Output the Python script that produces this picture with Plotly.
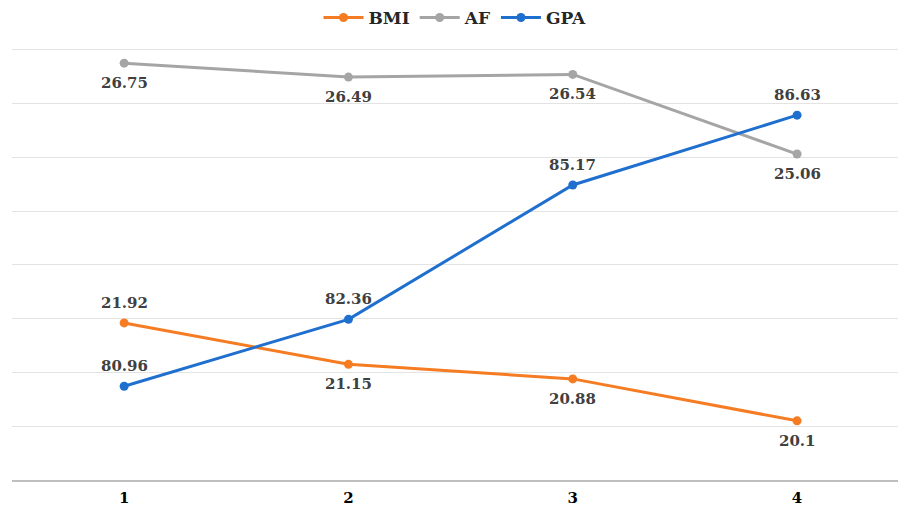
import plotly.graph_objects as go

# Measurement rounds
rounds = [1, 2, 3, 4]
round_labels = ["1", "2", "3", "4"]

# Series values per round
bmi = [21.92, 21.15, 20.88, 20.1]
af = [26.75, 26.49, 26.54, 25.06]
gpa = [80.96, 82.36, 85.17, 86.63]

# +1 = label above the point, -1 = below
bmi_label_side = [1, -1, -1, -1]
af_label_side = [-1, -1, -1, -1]
gpa_label_side = [1, 1, 1, 1]

COL_BMI = "#F57C22"
COL_AF = "#A5A5A5"
COL_GPA = "#1F6FCF"

label_font = dict(family="DejaVu Serif", size=15, color="#404040", weight="bold")

fig = go.Figure()

series = [
    ("BMI", bmi, COL_BMI, "y", bmi_label_side),
    ("AF", af, COL_AF, "y", af_label_side),
    ("GPA", gpa, COL_GPA, "y2", gpa_label_side),
]

for name, vals, col, yax, sides in series:
    fig.add_trace(go.Scatter(
        x=rounds, y=vals, name=name, mode="lines+markers", yaxis=yax,
        line=dict(color=col, width=3), marker=dict(size=9, color=col),
        hoverinfo="x+y+name",
    ))
    for xv, yv, s in zip(rounds, vals, sides):
        fig.add_annotation(
            x=xv, y=yv, xref="x", yref=yax, text=f"{yv:g}",
            showarrow=False, yshift=20 * s, yanchor="middle",
            font=label_font,
        )

fig.update_layout(
    width=898, height=506,
    margin=dict(l=12, r=0, t=47, b=26, autoexpand=False),
    paper_bgcolor="white", plot_bgcolor="white",
    showlegend=True,
    legend=dict(
        orientation="h", x=0.5, xanchor="center", y=1.067, yanchor="middle",
        font=dict(family="DejaVu Serif", size=17, color="#262626", weight="bold"),
        itemwidth=40,
    ),
    xaxis=dict(
        range=[0.5, 4.45], tickvals=rounds, ticktext=round_labels,
        showgrid=False, zeroline=False, automargin=False,
        showline=True, linecolor="#BFBFBF", linewidth=2,
        ticks="", ticklabelstandoff=3,
        tickfont=dict(family="DejaVu Serif", size=15, color="#000000", weight="bold"),
    ),
    yaxis=dict(
        range=[19, 27.05], tickvals=[20, 21, 22, 23, 24, 25, 26, 27],
        showticklabels=False, zeroline=False, automargin=False,
        showgrid=True, gridcolor="#E3E3E3", gridwidth=1,
    ),
    yaxis2=dict(
        range=[79, 88.05625], overlaying="y", side="right",
        showticklabels=False, showgrid=False, zeroline=False, automargin=False,
    ),
)

fig.write_html("out.html")
